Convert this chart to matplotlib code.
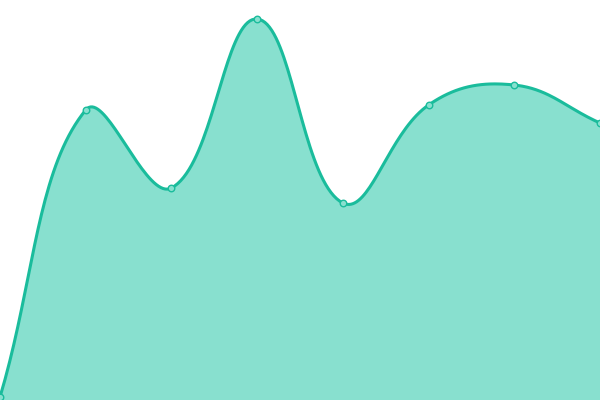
import matplotlib
matplotlib.use('Agg')
import matplotlib.pyplot as plt
import numpy as np

# data (x = index, y on a 0-100 scale)
labels = [0, 1, 2, 3, 4, 5, 6, 7]
values = [0.75, 72.5, 53, 95.25, 49.25, 73.75, 78.75, 69.25]

line_color = '#1abc9c'
fill_color = '#88e0cf'
tension = 0.4


def smooth(px, py, t=tension, steps=40):
  # chart.js-like cardinal spline, done in pixel space
  n = len(px)
  cps = []
  for i in range(n):
    p0 = (px[max(i - 1, 0)], py[max(i - 1, 0)])
    p1 = (px[i], py[i])
    p2 = (px[min(i + 1, n - 1)], py[min(i + 1, n - 1)])
    d01 = np.hypot(p1[0] - p0[0], p1[1] - p0[1])
    d12 = np.hypot(p2[0] - p1[0], p2[1] - p1[1])
    tot = d01 + d12
    fa = t * d01 / tot if tot else 0
    fb = t * d12 / tot if tot else 0
    cp_prev = (p1[0] - fa * (p2[0] - p0[0]), p1[1] - fa * (p2[1] - p0[1]))
    cp_next = (p1[0] + fb * (p2[0] - p0[0]), p1[1] + fb * (p2[1] - p0[1]))
    cps.append((cp_prev, cp_next))
  xs, ys = [], []
  s = np.linspace(0, 1, steps)
  for i in range(n - 1):
    a = np.array([px[i], py[i]])
    b = np.array(cps[i][1])
    c = np.array(cps[i + 1][0])
    d = np.array([px[i + 1], py[i + 1]])
    seg = ((1 - s) ** 3)[:, None] * a + (3 * (1 - s) ** 2 * s)[:, None] * b \
        + (3 * (1 - s) * s ** 2)[:, None] * c + (s ** 3)[:, None] * d
    xs.extend(seg[:, 0])
    ys.extend(seg[:, 1])
  return np.array(xs), np.array(ys)


fig = plt.figure(figsize=(6, 4), dpi=100)
ax = fig.add_axes([0, 0, 1, 1])
ax.set_xlim(labels[0], labels[-1])
ax.set_ylim(0, 100)
ax.axis('off')

# spline in display coords, then back to data coords
pts = ax.transData.transform(np.column_stack([labels, values]))
sx, sy = smooth(pts[:, 0], pts[:, 1])
curve = ax.transData.inverted().transform(np.column_stack([sx, sy]))

ax.fill_between(curve[:, 0], 0, curve[:, 1], color=fill_color, lw=0, zorder=1)
ax.plot(curve[:, 0], curve[:, 1], color=line_color, lw=2.2, zorder=2,
        solid_capstyle='round', clip_on=False)
ax.scatter(labels, values, s=22, facecolor=fill_color, edgecolor=line_color,
           linewidth=1, zorder=3, clip_on=False)

fig.savefig('out.png', dpi=100)
